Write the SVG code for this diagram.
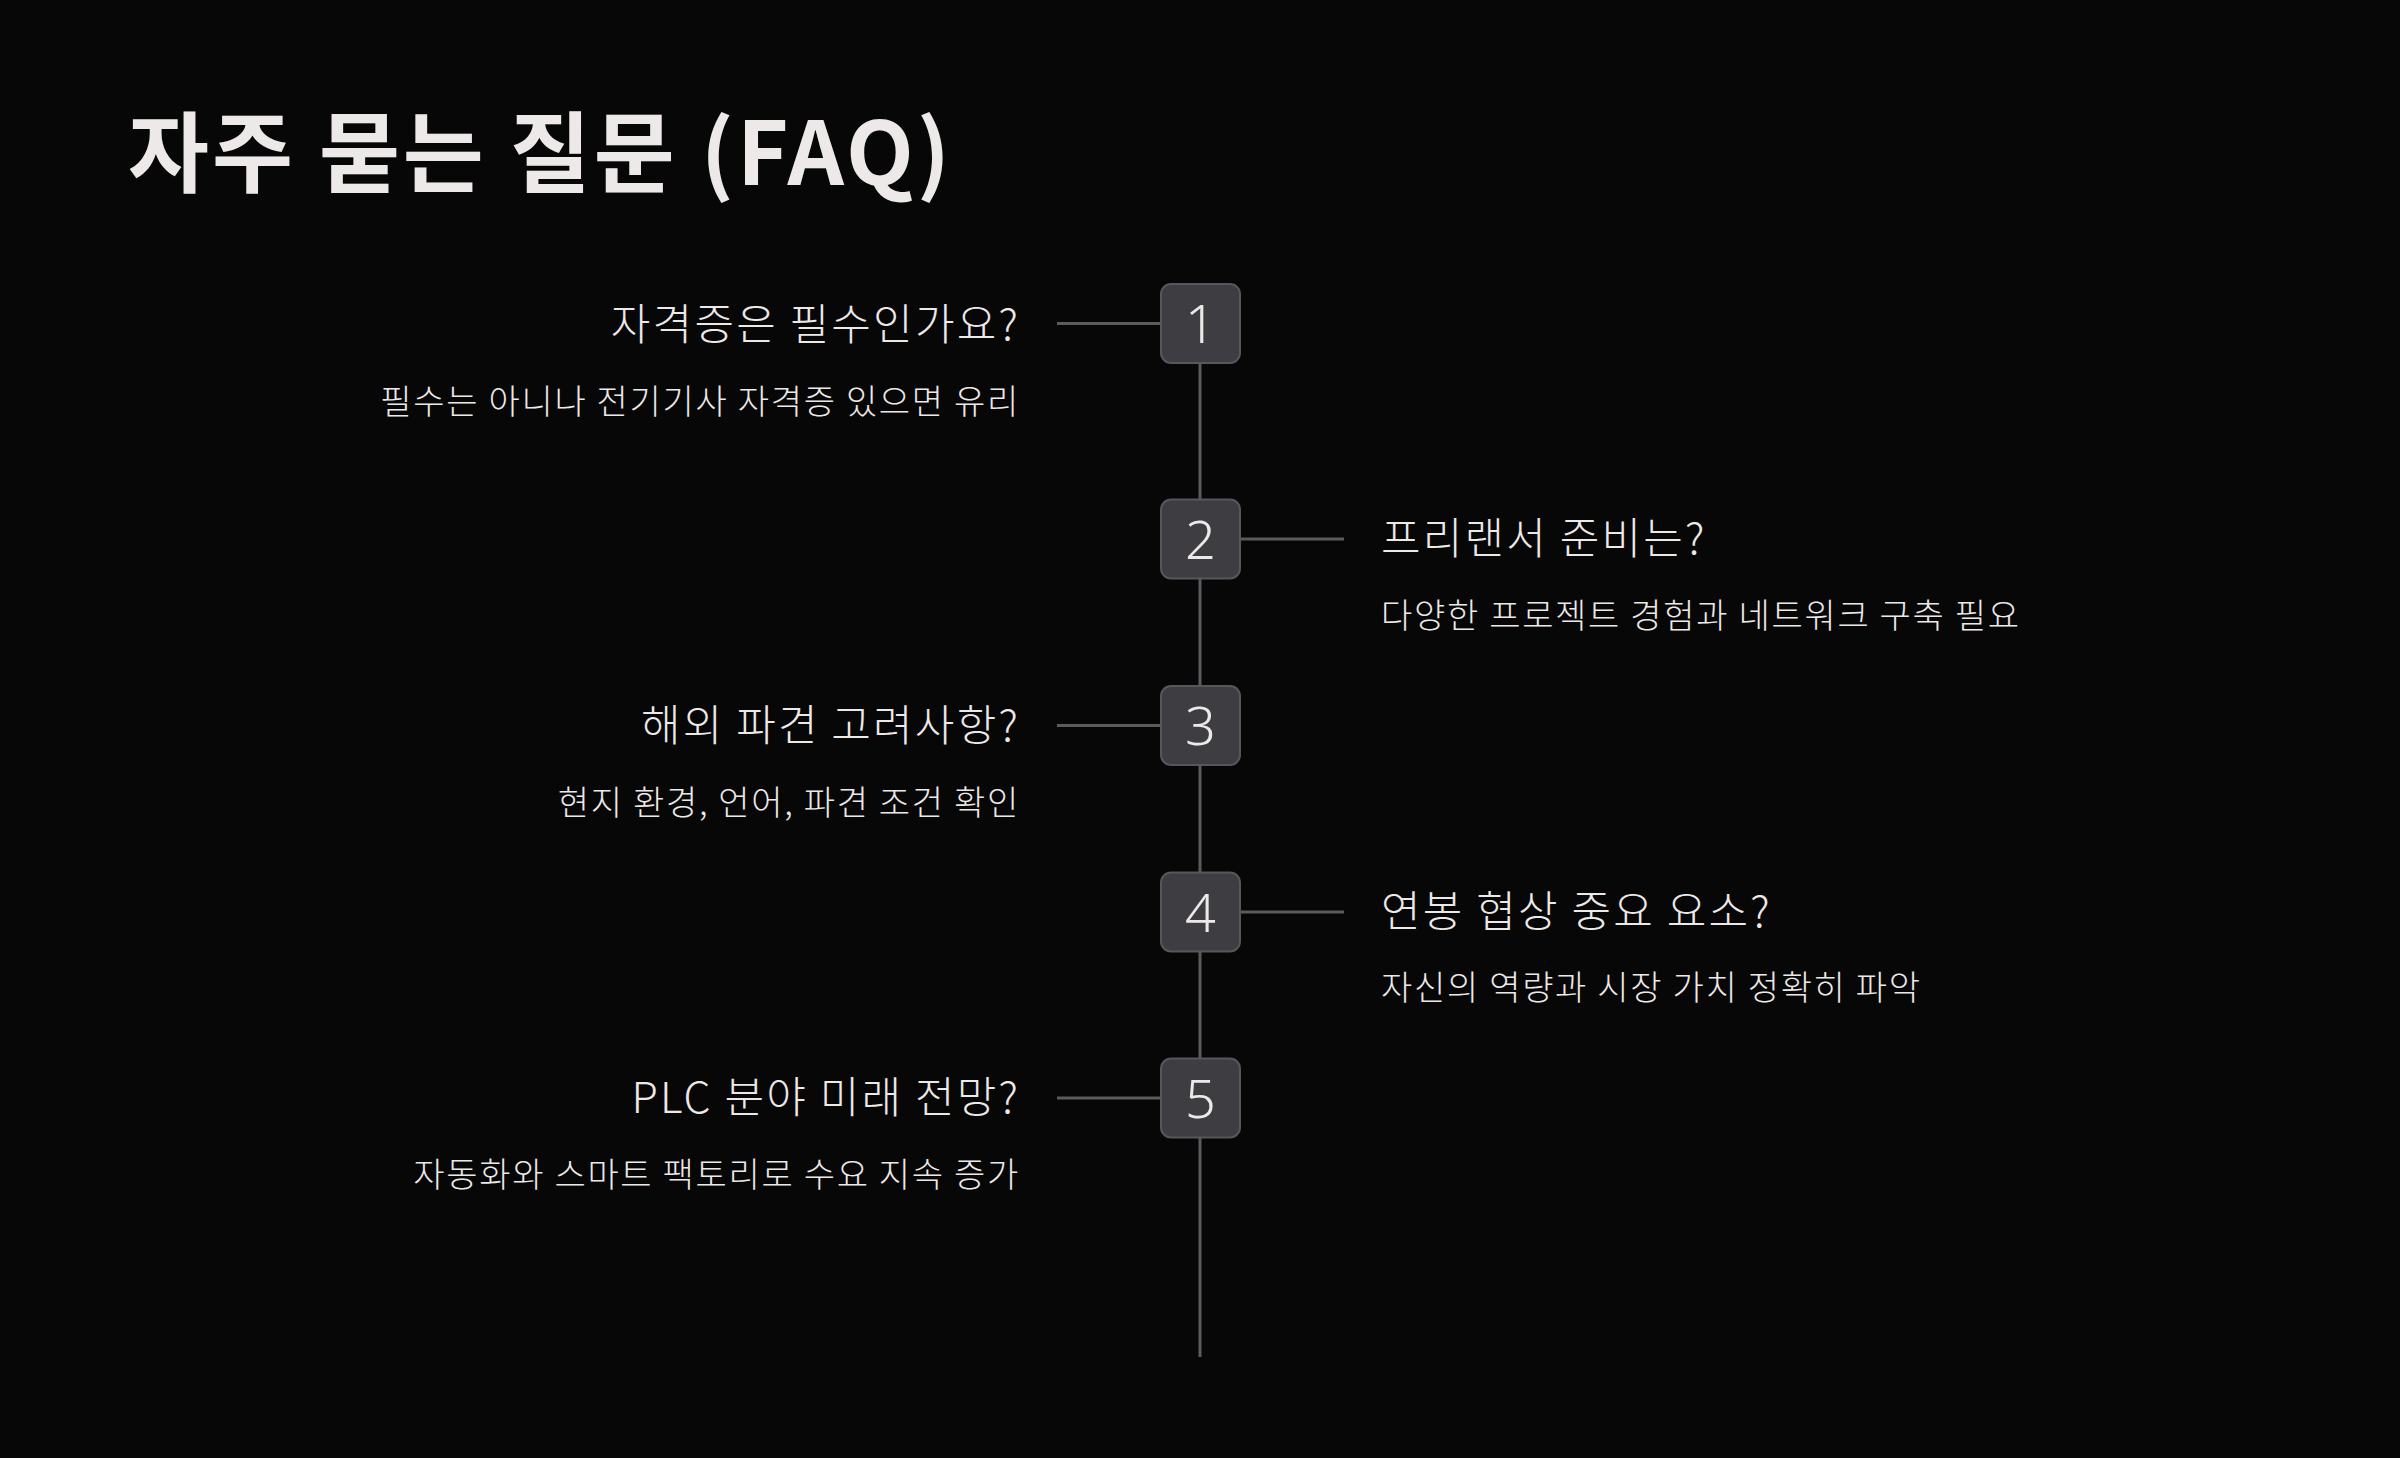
<svg xmlns="http://www.w3.org/2000/svg" width="2400" height="1458" viewBox="0 0 2400 1458">
<style>
.t{font-family:"Noto Sans CJK KR","Noto Sans",sans-serif;fill:#EDE9E9}
.title{font-size:88px;font-weight:700;letter-spacing:3px}
.h{font-size:43px;font-weight:300;letter-spacing:2.2px}
.s{font-size:34px;font-weight:300;letter-spacing:1.7px}
.num{font-family:"Noto Sans","Noto Sans CJK KR",sans-serif;font-size:54px;font-weight:300;fill:#EDE9E9;text-anchor:middle}
.box{fill:#3E3E42;stroke:#56565B;stroke-width:2}
.ln{stroke:#5A5A5F;stroke-width:3;fill:none}
.r{text-anchor:end}
</style>
<rect width="2400" height="1458" fill="#070707"/>
<text class="t title" x="128" y="185">자주 묻는 질문 (FAQ)</text>
<g id="connectors">
<line class="ln" x1="1200" y1="363" x2="1200" y2="1357"/>
<line class="ln" x1="1057" y1="323.5" x2="1161" y2="323.5"/>
<line class="ln" x1="1240" y1="539" x2="1344" y2="539"/>
<line class="ln" x1="1057" y1="725.5" x2="1161" y2="725.5"/>
<line class="ln" x1="1240" y1="912" x2="1344" y2="912"/>
<line class="ln" x1="1057" y1="1098" x2="1161" y2="1098"/>
</g>
<g id="node1">
<rect class="box" x="1161" y="284" width="79" height="79" rx="10"/>
<text class="num" x="1200.5" y="343">1</text>
<text class="t h r" x="1020" y="340">자격증은 필수인가요?</text>
<text class="t s r" x="1020" y="414">필수는 아니나 전기기사 자격증 있으면 유리</text>
</g>
<g id="node2">
<rect class="box" x="1161" y="499.5" width="79" height="79" rx="10"/>
<text class="num" x="1200.5" y="558.5">2</text>
<text class="t h" x="1381" y="554">프리랜서 준비는?</text>
<text class="t s" x="1381" y="628">다양한 프로젝트 경험과 네트워크 구축 필요</text>
</g>
<g id="node3">
<rect class="box" x="1161" y="686" width="79" height="79" rx="10"/>
<text class="num" x="1200.5" y="745">3</text>
<text class="t h r" x="1020" y="741">해외 파견 고려사항?</text>
<text class="t s r" x="1020" y="815">현지 환경, 언어, 파견 조건 확인</text>
</g>
<g id="node4">
<rect class="box" x="1161" y="872.5" width="79" height="79" rx="10"/>
<text class="num" x="1200.5" y="931.5">4</text>
<text class="t h" x="1381" y="927">연봉 협상 중요 요소?</text>
<text class="t s" x="1381" y="1000">자신의 역량과 시장 가치 정확히 파악</text>
</g>
<g id="node5">
<rect class="box" x="1161" y="1058.5" width="79" height="79" rx="10"/>
<text class="num" x="1200.5" y="1117.5">5</text>
<text class="t h r" x="1020" y="1113">PLC 분야 미래 전망?</text>
<text class="t s r" x="1020" y="1187">자동화와 스마트 팩토리로 수요 지속 증가</text>
</g>
</svg>
